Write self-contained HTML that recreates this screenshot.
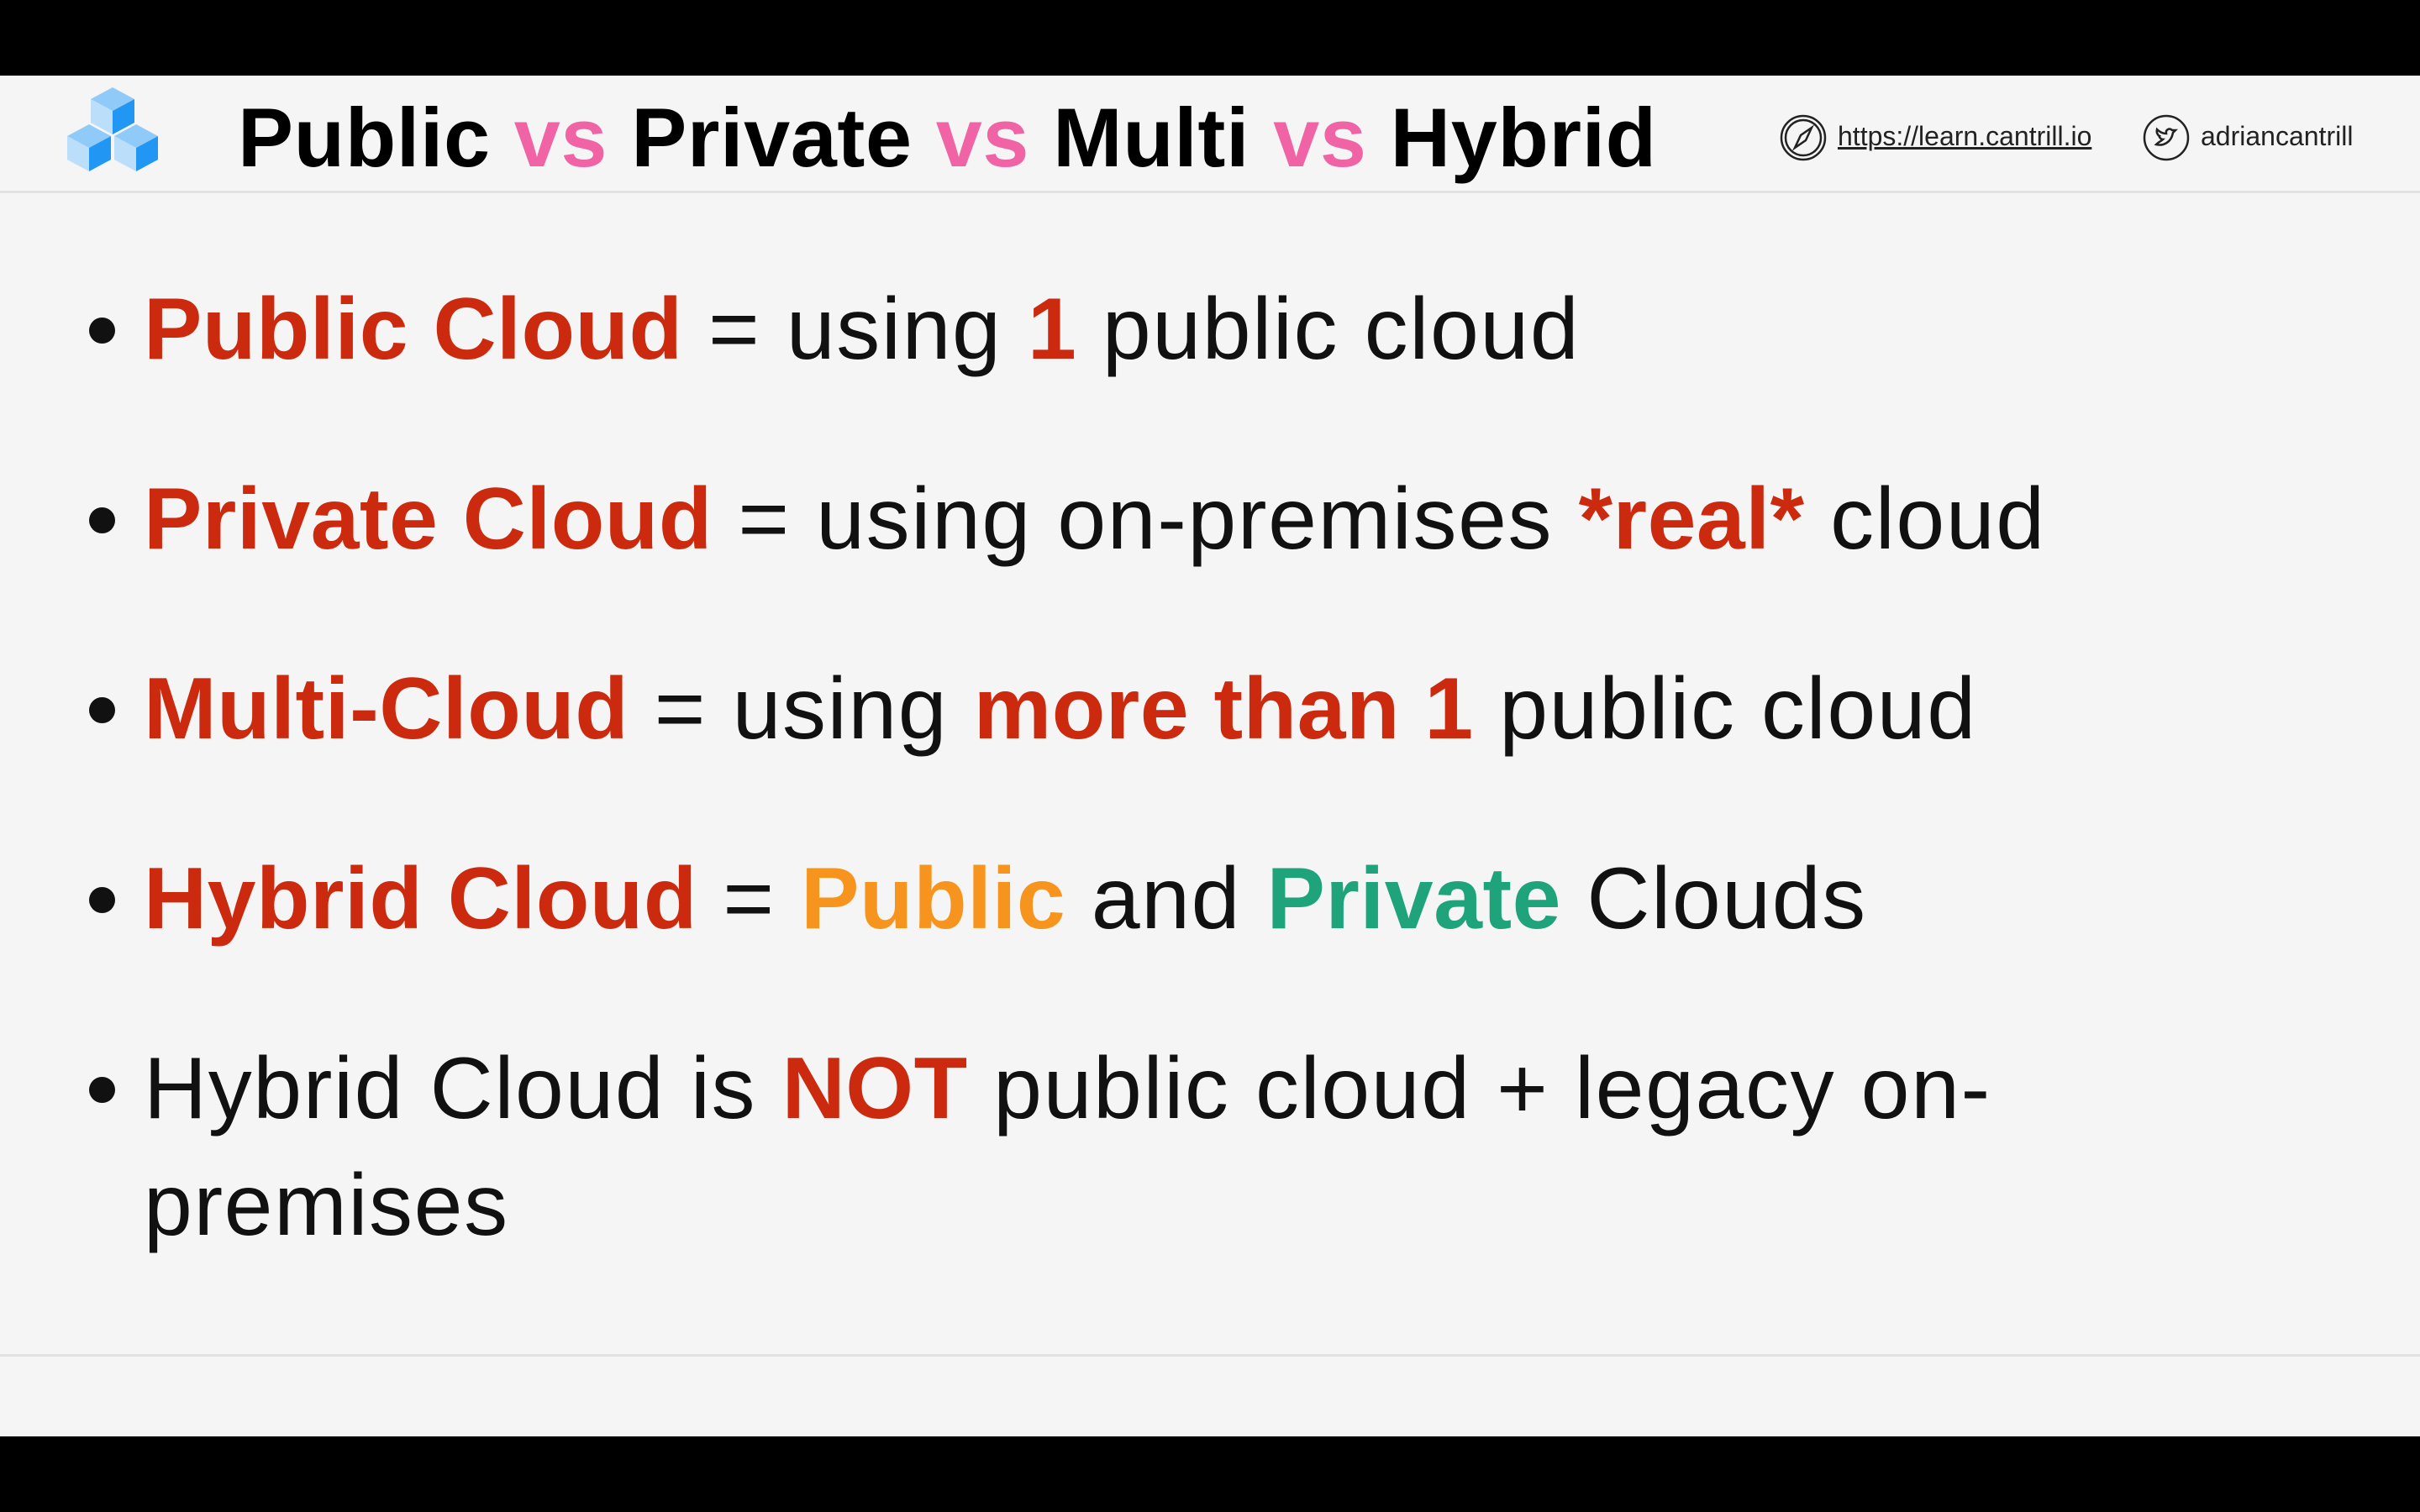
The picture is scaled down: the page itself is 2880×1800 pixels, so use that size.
<!DOCTYPE html>
<html><head><meta charset="utf-8"><style>
html,body{margin:0;padding:0;width:2880px;height:1800px;overflow:hidden;background:#000;font-family:"Liberation Sans",sans-serif;}
#slide{position:absolute;left:0;top:90px;width:2880px;height:1620px;background:#f5f5f5;}
.hl{position:absolute;left:0;width:2880px;height:3px;background:#e2e2e2;}
.t{position:absolute;white-space:nowrap;line-height:1;}
.title{font-weight:bold;font-size:99px;color:#000;left:283px;top:112px;letter-spacing:0.6px}
.pk{color:#f063a5}
.b{font-size:104px;color:#111;left:171px;letter-spacing:1.6px}
.r{color:#cc2a0e;font-weight:bold;letter-spacing:0.5px}
.o{color:#f7941d;font-weight:bold;letter-spacing:0.5px}
.g{color:#1fa37a;font-weight:bold;letter-spacing:0.5px}
.dot{position:absolute;left:106px;width:31px;height:31px;border-radius:50%;background:#111}
.small{font-size:32px;color:#222}
</style></head><body>
<div id="slide">
<svg style="position:absolute;left:76px;top:14px" width="116" height="114" viewBox="0 0 116 114">
 <polygon points="58,0 84,14 58,28 32,14" fill="#90caf9"/>
 <polygon points="32,14 58,28 58,56 32,42" fill="#bbdefb"/>
 <polygon points="84,14 58,28 58,56 84,42" fill="#2196f3"/>
 <polygon points="30,44 56,58 30,72 4,58" fill="#90caf9"/>
 <polygon points="4,58 30,72 30,100 4,86" fill="#bbdefb"/>
 <polygon points="56,58 30,72 30,100 56,86" fill="#2196f3"/>
 <polygon points="86,44 112,58 86,72 60,58" fill="#90caf9"/>
 <polygon points="60,58 86,72 86,100 60,86" fill="#bbdefb"/>
 <polygon points="112,58 86,72 86,100 112,86" fill="#2196f3"/>
</svg>
<div class="t title" style="top:24px">Public <span class="pk">vs</span> Private <span class="pk">vs</span> Multi <span class="pk">vs</span> Hybrid</div>
<svg style="position:absolute;left:2118px;top:46px" width="56" height="56" viewBox="0 0 56 56" fill="none" stroke="#222" stroke-width="2.5">
 <circle cx="28" cy="28" r="26"/><circle cx="28" cy="28" r="21"/>
 <polygon points="38,16 31,31 18,40 25,25" fill="none"/>
</svg>
<div class="t small" style="left:2187px;top:56px;text-decoration:underline">https://learn.cantrill.io</div>
<svg style="position:absolute;left:2550px;top:46px" width="56" height="56" viewBox="0 0 56 56" fill="none" stroke="#222" stroke-width="2.5">
 <circle cx="28" cy="28" r="26"/>
 <path d="M16,36 C24,38 34,34 36,22 L39,19 L35,19 C32,16 27,18 28,23 C23,23 19,20 17,18 C16,22 18,25 20,26 C19,27 22,30 24,30 C22,32 19,33 16,36 Z"/>
</svg>
<div class="t small" style="left:2619px;top:56px">adriancantrill</div>
<div class="hl" style="top:137px"></div>

<div class="dot" style="top:288px"></div>
<div class="t b" style="top:250px"><span class="r">Public Cloud</span> = using <span class="r">1</span> public cloud</div>
<div class="dot" style="top:514px"></div>
<div class="t b" style="top:476px"><span class="r">Private Cloud</span> = using on-premises <span class="r">*real*</span> cloud</div>
<div class="dot" style="top:740px"></div>
<div class="t b" style="top:702px"><span class="r">Multi-Cloud</span> = using <span class="r">more than 1</span> public cloud</div>
<div class="dot" style="top:966px"></div>
<div class="t b" style="top:928px"><span class="r">Hybrid Cloud</span> = <span class="o">Public</span> and <span class="g">Private</span> Clouds</div>
<div class="dot" style="top:1192px"></div>
<div class="t b" style="top:1154px">Hybrid Cloud is <span class="r">NOT</span> public cloud + legacy on-</div>
<div class="t b" style="top:1293px">premises</div>

<div class="hl" style="top:1522px"></div>
</div>
</body></html>
